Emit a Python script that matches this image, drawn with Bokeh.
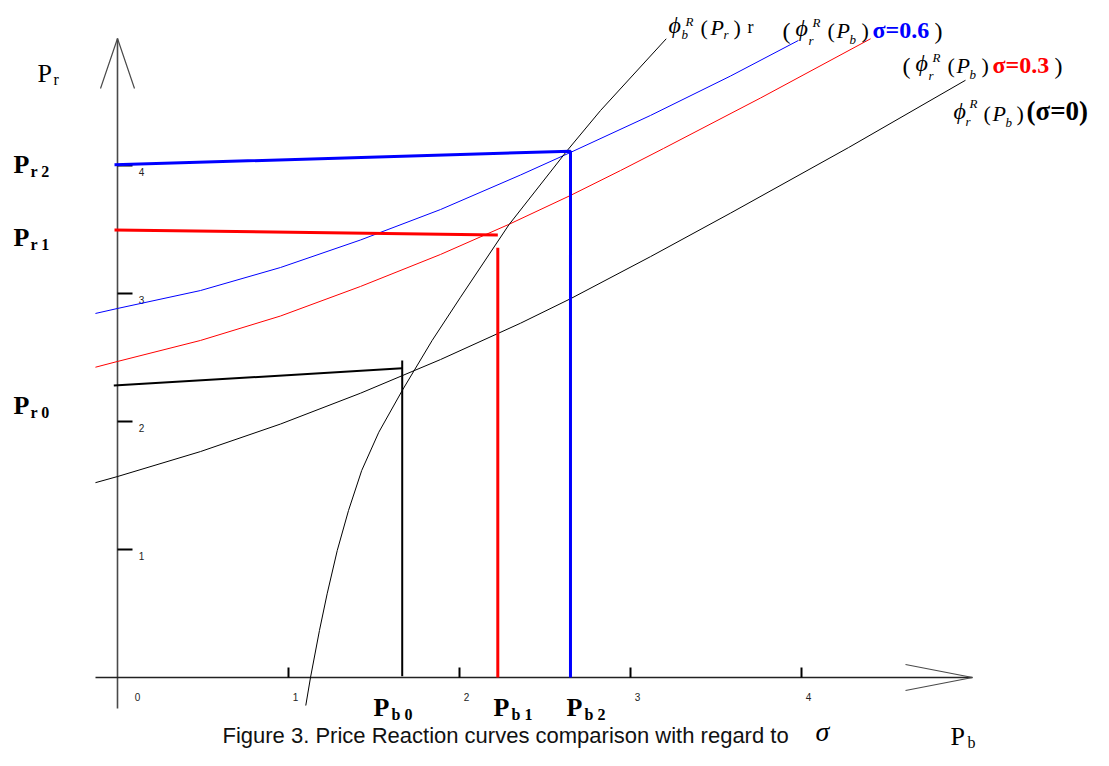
from bokeh.plotting import figure
from bokeh.models import Range1d
from bokeh.core.properties import value
from bokeh.embed import file_html
from bokeh.resources import INLINE

# ---- data ----
# reaction curve of retailer r for sigma = 0, 0.3, 0.6
s0_x = [-0.129, 0.0, 0.485, 0.953, 1.421, 1.889, 2.357, 2.649, 3.117, 3.585, 4.275, 4.959]
s0_y = [1.522, 1.570, 1.765, 1.980, 2.221, 2.484, 2.768, 2.959, 3.288, 3.628, 4.140, 4.666]
s3_x = [-0.129, 0.0, 0.485, 0.953, 1.421, 1.889, 2.287, 2.649, 2.942, 3.193, 3.760, 4.404]
s3_y = [2.424, 2.469, 2.633, 2.824, 3.055, 3.305, 3.539, 3.766, 3.961, 4.133, 4.527, 4.990]
s6_x = [-0.129, 0.0, 0.485, 0.953, 1.421, 1.889, 2.357, 2.649, 3.117, 3.585, 3.982]
s6_y = [2.844, 2.883, 3.023, 3.203, 3.418, 3.656, 3.926, 4.102, 4.391, 4.699, 4.977]
# reaction curve of retailer b
pb_x = [1.101, 1.129, 1.181, 1.226, 1.285, 1.351, 1.428, 1.528, 1.665, 1.840, 2.006, 2.289,
        2.630, 2.825, 3.209]
pb_y = [-0.219, 0.002, 0.367, 0.654, 0.992, 1.305, 1.617, 1.916, 2.242, 2.633, 2.971, 3.537,
        4.117, 4.430, 4.990]
# equilibrium guide lines
eq2_x = [-0.0175, 2.649, 2.649]
eq2_y = [4.005, 4.112, 0.0]
eq1_hx = [-0.0175, 2.224]
eq1_hy = [3.497, 3.458]
eq1_vx = [2.224, 2.224]
eq1_vy = [3.357, 0.0]
eq0_hx = [-0.0216, 1.665]
eq0_hy = [2.281, 2.416]
eq0_vx = [1.665, 1.665]
eq0_vy = [2.477, 0.01]
tick_vals = [1, 2, 3, 4]
tick_labels_x = ["0", "1", "2", "3", "4"]
tick_labels_y = ["1", "2", "3", "4"]

# pixel helpers (picture pixel -> data units)
def X(px):
    return (px - 117) / 171.0

def Y(py):
    return (677 - py) / 128.0

p = figure(width=1093, height=750, output_backend="svg", toolbar_location=None,
           x_range=Range1d(X(0), X(1093)), y_range=Range1d(Y(750), Y(0)),
           x_axis_location=None, y_axis_location=None, min_border=0)
p.grid.visible = False
p.outline_line_color = None
p.background_fill_color = "white"

AX = "#4a4a4a"
# axes with arrowheads
p.line([0, 0], [Y(708), Y(38)], line_color=AX, line_width=1.6)
p.line([X(100), 0, X(134)], [Y(88), Y(38), Y(88)], line_color=AX, line_width=1.2)
p.line([X(95), X(972)], [0, 0], line_color="#222222", line_width=1.4)
p.line([X(905), X(972), X(905)], [Y(664), 0, Y(690)], line_color=AX, line_width=1.2)

# ticks
p.segment(x0=tick_vals, y0=[0] * 4, x1=tick_vals, y1=[10 / 128.0] * 4, line_color="black", line_width=2)
p.segment(x0=[0] * 4, y0=tick_vals, x1=[15 / 171.0] * 4, y1=tick_vals, line_color="black", line_width=2)
p.text(x=[X(137)] + [v + 7 / 171.0 for v in tick_vals], y=[Y(696)] * 5, text=tick_labels_x,
       text_font=value("Liberation Sans"), text_font_size="10px", text_color="#222222",
       text_align="center", text_baseline="middle")
p.text(x=[X(141)] * 4, y=[v - 6 / 128.0 for v in tick_vals], text=tick_labels_y,
       text_font=value("Liberation Sans"), text_font_size="10px", text_color="#222222",
       text_align="center", text_baseline="middle")

# curves
p.line(s0_x, s0_y, line_color="black", line_width=1)
p.line(s3_x, s3_y, line_color="#ff0000", line_width=1)
p.line(s6_x, s6_y, line_color="#0000ff", line_width=1)
p.line(pb_x, pb_y, line_color="black", line_width=1)

# equilibrium lines
p.line(eq2_x, eq2_y, line_color="#0000ff", line_width=3)
p.line(eq1_hx, eq1_hy, line_color="#ff0000", line_width=3)
p.line(eq1_vx, eq1_vy, line_color="#ff0000", line_width=3)
p.line(eq0_hx, eq0_hy, line_color="black", line_width=2)
p.line(eq0_vx, eq0_vy, line_color="black", line_width=2)


def label(px, py, s, size, color="black", style="normal", font="Liberation Serif"):
    # py is the wanted baseline; place the glyph's middle 0.35em above it
    p.text(x=[X(px)], y=[Y(py - 0.35 * size)], text=[s], text_font=value(font),
           text_font_size=f"{size}px", text_font_style=style, text_color=color,
           text_align="left", text_baseline="middle")


# axis names
label(37, 82, "P", 26)
label(53, 85, "r", 16)
label(950, 745, "P", 26)
label(967, 748, "b", 16)

# equilibrium labels
for base, sub in [(173, "r 2"), (246, "r 1"), (414, "r 0")]:
    label(13, base, "P", 26, style="bold")
    label(30, base + 4, sub, 16, style="bold")
for left, sub in [(373, "b 0"), (493, "b 1"), (566, "b 2")]:
    label(left, 716, "P", 26, style="bold")
    label(left + 18, 720, sub, 16, style="bold")

# curve label: phi_b^R(P_r) r
label(668, 33, "ϕ", 24, style="italic")
label(685, 26, "R", 13, style="italic")
label(681, 39, "b", 13, style="italic")
label(700, 35, "(", 22)
label(710, 35, "P", 22, style="italic")
label(723, 39, "r", 13, style="italic")
label(733, 35, ")", 22)
label(747, 33, "r", 18)

# curve labels for sigma = 0.6 and 0.3
for dx, dy, txt, col in [(0, 0, "σ=0.6", "#0000ff"), (120, 35, "σ=0.3", "#ff0000")]:
    label(782 + dx, 39 + dy, "(", 24)
    label(795 + dx, 36 + dy, "ϕ", 24, style="italic")
    label(812 + dx, 27 + dy, "R", 13, style="italic")
    label(808 + dx, 45 + dy, "r", 13, style="italic")
    label(827 + dx, 38 + dy, "(", 22)
    label(836 + dx, 38 + dy, "P", 22, style="italic")
    label(849 + dx, 44 + dy, "b", 13, style="italic")
    label(861 + dx, 38 + dy, ")", 22)
    label(872 + dx, 38 + dy, txt, 24, color=col, style="bold")
    label(934 + dx, 39 + dy, ")", 24)

# curve label for sigma = 0
label(953, 119, "ϕ", 24, style="italic")
label(969, 108, "R", 13, style="italic")
label(965, 126, "r", 13, style="italic")
label(983, 121, "(", 22)
label(992, 121, "P", 22, style="italic")
label(1005, 127, "b", 13, style="italic")
label(1016, 121, ")", 22)
label(1026, 120, "(σ=0)", 27, style="bold")

# caption
label(222, 743, "Figure 3. Price Reaction curves comparison with regard to", 22, color="#111111",
      font="Liberation Sans")
label(815, 741, "σ", 28, style="italic")

open("out.html", "w").write(file_html(p, INLINE))
